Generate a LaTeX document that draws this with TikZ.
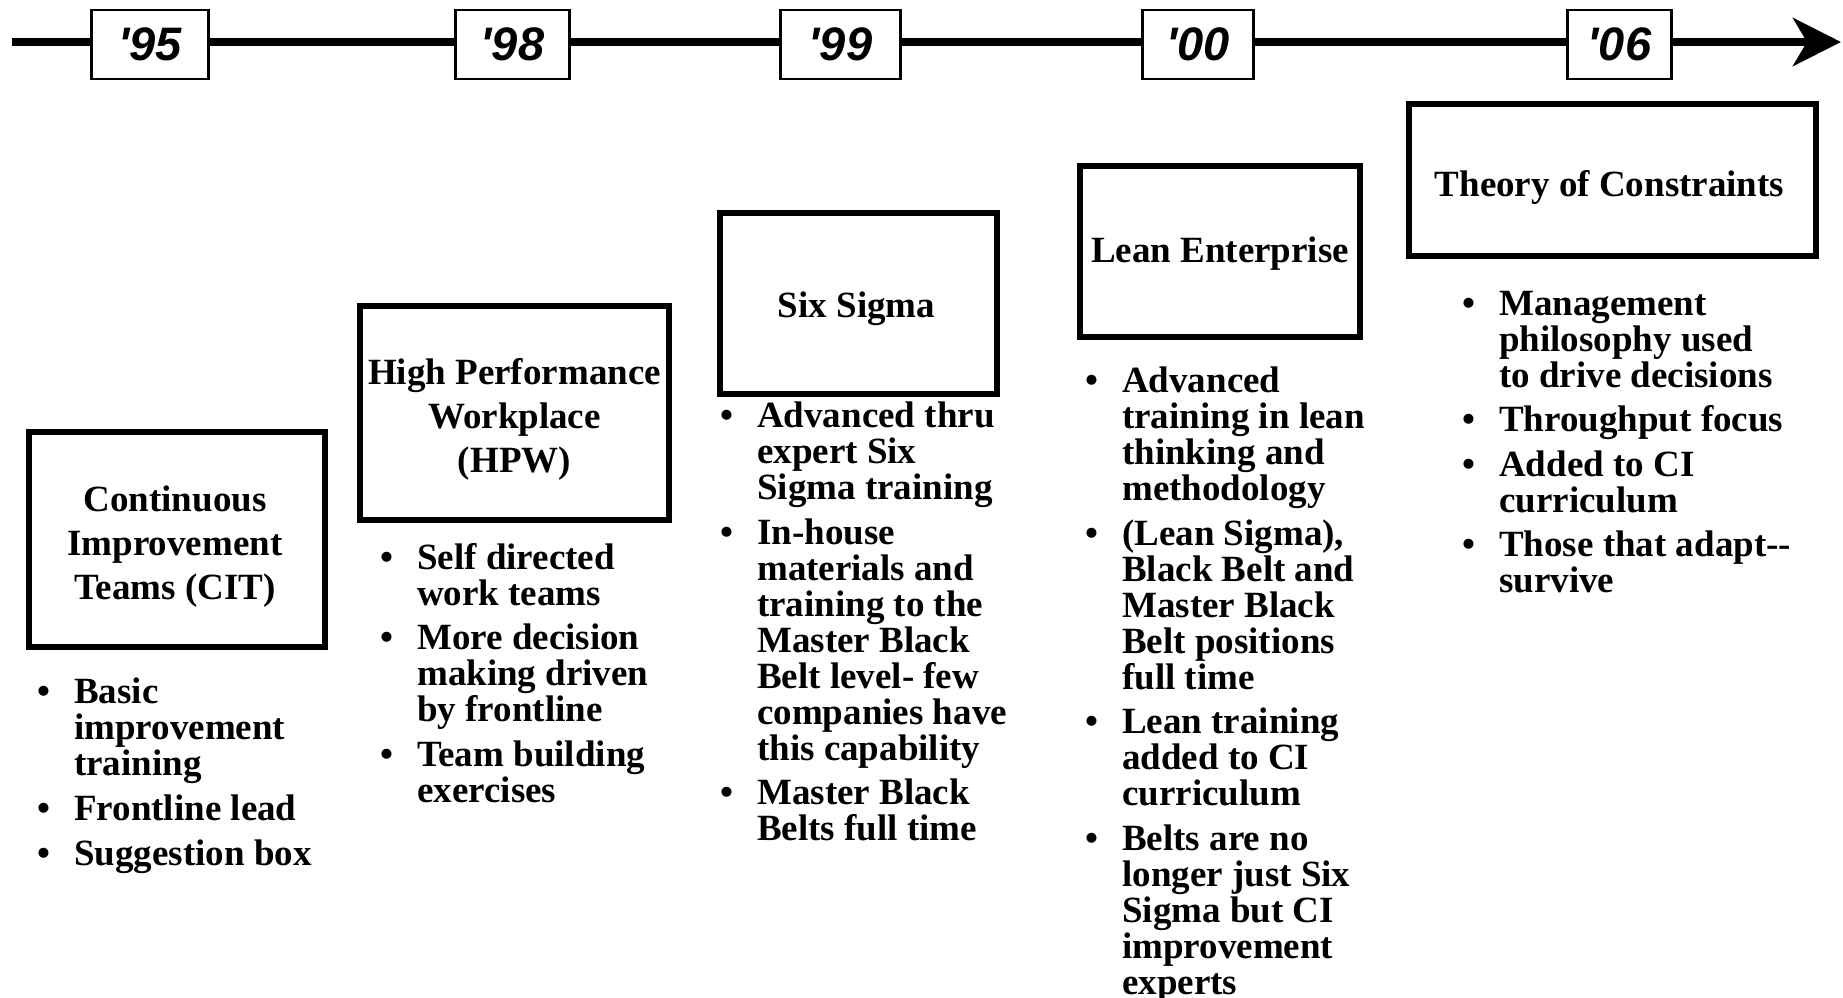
\documentclass[tikz,border=0pt]{standalone}
\usepackage{fontspec}
\setmainfont{Liberation Serif}
\newfontfamily\yearfont{Liberation Sans}
\usetikzlibrary{arrows.meta}
\newcommand\bul{\makebox[0pt][r]{\textbullet\hspace{24pt}}}
\newcommand\yr[1]{\symbol{"27}#1}
\begin{document}
\begin{tikzpicture}[x=1pt,y=-1pt,
  yearbox/.style={draw, line width=2.5pt, fill=white, inner sep=0pt, minimum height=69pt,
    font=\yearfont\bfseries\itshape\fontsize{47}{47}\selectfont},
  catbox/.style={draw, line width=6pt, inner sep=0pt},
  cattitle/.style={inner sep=0pt, align=center,
    font=\bfseries\fontsize{37}{44}\selectfont},
  bullets/.style={anchor=north west, inner sep=0pt, align=left,
    font=\bfseries\fontsize{37}{36}\selectfont},
  timeline/.style={line width=8pt, -{Stealth[length=48pt,width=48pt,inset=14pt]}}]
\path[fill=white] (0,0) rectangle (1843,997);
\useasboundingbox (0,0) rectangle (1843,997);

% timeline
\coordinate (tl0) at (12,42);
\coordinate (tl1) at (1841,42);
\draw[timeline] (tl0) -- (tl1);

% years
\node[yearbox, minimum width=117pt] (y95) at (150,44.5) {\yr{95}};
\node[yearbox, minimum width=114pt] (y98) at (512.5,44.5) {\yr{98}};
\node[yearbox, minimum width=120pt] (y99) at (840.5,44.5) {\yr{99}};
\node[yearbox, minimum width=111pt] (y00) at (1198,44.5) {\yr{00}};
\node[yearbox, minimum width=104pt] (y06) at (1619.5,44.5) {\yr{06}};

% category boxes
\node[catbox, minimum width=296pt, minimum height=215pt] (cit) at (177,539.5) {};
\node[catbox, minimum width=309pt, minimum height=214pt] (hpw) at (514.5,413) {};
\node[catbox, minimum width=277pt, minimum height=181pt] (ss) at (858.5,303.5) {};
\node[catbox, minimum width=280pt, minimum height=171pt] (lean) at (1220,251.5) {};
\node[catbox, minimum width=407pt, minimum height=152pt] (toc) at (1612.5,180) {};

\node[cattitle] (citT) at ([xshift=-2pt,yshift=-7pt]cit.center)
  {Continuous\\Improvement\\Teams (CIT)};
\node[cattitle] (hpwT) at ([yshift=-6pt]hpw.center)
  {High Performance\\Workplace\\(HPW)};
\node[cattitle] (ssT) at ([xshift=-2pt,yshift=-5pt]ss.center) {Six Sigma};
\node[cattitle] (leanT) at ([yshift=-2pt]lean.center) {Lean Enterprise};
\node[cattitle] (tocT) at ([xshift=-3pt,yshift=-7pt]toc.center) {Theory of Constraints};

% bullet lists
\node[bullets] (citl) at (74,678)
  {\bul Basic\\improvement\\training\\[9pt]
   \bul Frontline lead\\[9pt]
   \bul Suggestion box};
\node[bullets] (hpwl) at (417,543)
  {\bul Self directed\\work teams\\[8.5pt]
   \bul More decision\\making driven\\by frontline\\[8.5pt]
   \bul Team building\\exercises};
\node[bullets] (ssl) at (757,402)
  {\bul Advanced thru\\expert Six\\Sigma training\\[8.5pt]
   \bul In-house\\materials and\\training to the\\Master Black\\Belt level- few\\companies have\\this capability\\[8.5pt]
   \bul Master Black\\Belts full time};
\node[bullets] (leanl) at (1122,367)
  {\bul Advanced\\training in lean\\thinking and\\methodology\\[8.5pt]
   \bul (Lean Sigma),\\Black Belt and\\Master Black\\Belt positions\\full time\\[8.5pt]
   \bul Lean training\\added to CI\\curriculum\\[8.5pt]
   \bul Belts are no\\longer just Six\\Sigma but CI\\improvement\\experts};
\node[bullets] (tocl) at (1499,291)
  {\bul Management\\philosophy used\\to drive decisions\\[8.5pt]
   \bul Throughput focus\\[8.5pt]
   \bul Added to CI\\curriculum\\[8.5pt]
   \bul Those that adapt-{}-\\survive};
\end{tikzpicture}
\end{document}
